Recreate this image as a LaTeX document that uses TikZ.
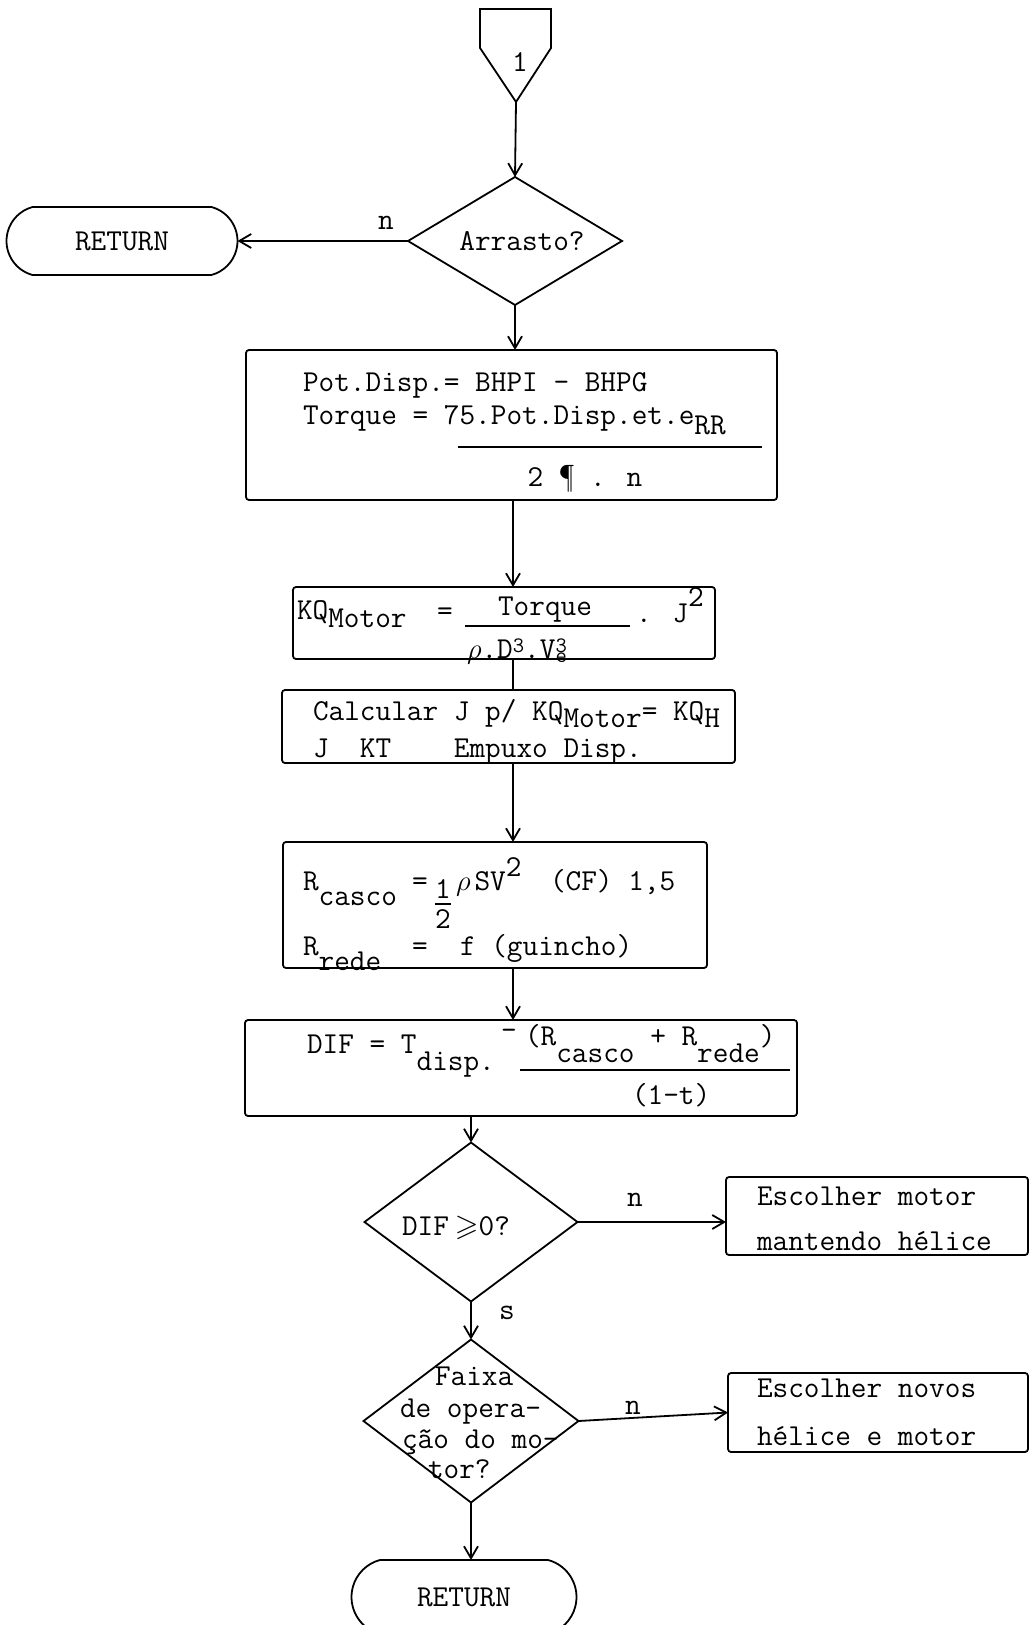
\documentclass[tikz,border=0pt]{standalone}
\usepackage{amssymb}
\usetikzlibrary{arrows.meta,shapes.geometric,shapes.misc}
\newcommand\tsub[2][5pt]{\raisebox{-#1}{#2}}
\newcommand\tsup[2][6pt]{\raisebox{#1}{#2}}
\newcommand\tw{\ttfamily\fontsize{15.2}{18}\selectfont}
\newcommand\sm{\fontsize{11}{13}\selectfont}
\begin{document}
\begin{tikzpicture}[x=0.5pt,y=-0.5pt, line width=0.9pt,
  every node/.style={inner sep=0pt, outer sep=0pt},
  txt/.style={font=\tw, anchor=base west},
  ctxt/.style={font=\tw, anchor=base},
  box/.style={draw, rectangle, rounded corners=1.5pt},
  arr/.style={-{Straight Barb[length=6pt,width=7pt]}},
  term/.style={draw, rounded rectangle, rounded rectangle arc length=150, font=\tw},
  dia/.style={draw, diamond}]
\path[use as bounding box, fill=white] (0,0) rectangle (1029,1625);
\clip (0,0) rectangle (1029,1625);

% connector
\draw (480,9) -- (551,9) -- (551,48) -- (516,102) -- (480,48) -- cycle;
\coordinate (c1tip) at (516,102);
\node[font=\tw] (c1) at (520,62) {1};

% Arrasto
\node[dia, minimum width=107pt, minimum height=64pt] (d1) at (515,241) {};
\node[font=\tw] (d1t) at (522,241) {Arrasto?};
\node[term, minimum width=115.5pt, minimum height=34pt] (r1) at (122,241) {RETURN};
\node[font=\tw] (n1) at (386,223) {n};

% box 1
\node[box, minimum width=265.5pt, minimum height=75pt] (b1) at (511.5,425) {};
\node[txt] (t1a) at (303,392) {Pot.Disp.= BHPI - BHPG};
\node[txt] (t1b) at (303,425) {Torque = 75.Pot.Disp.et.e\tsub{RR}};
\draw (458,447) -- (762,447);
\node[ctxt] (t1c) at (585,487) {2 ¶ . n};

% box 2
\node[box, minimum width=211pt, minimum height=36pt] (b2) at (504,623) {};
\node[txt] (t2a) at (297,619) {KQ\tsub[4pt]{Motor}};
\node[txt] (t2b) at (437,620) {=};
\node[ctxt] (t2c) at (545,615) {Torque};
\draw (465,626) -- (630,626);
\node[txt] (t2d) at (467,658) {{\rmfamily$\rho$}.D\tsup[3pt]{\sm 3}.V\rlap{\tsup[3pt]{\sm 3}}\tsub[2pt]{\sm e}};
\node[txt] (t2e) at (636,622) {. J\tsup[8pt]{2}};

% box 3
\node[box, minimum width=226.5pt, minimum height=36.5pt] (b3) at (508.5,726.5) {};
\node[txt] (t3a) at (313,720) {Calcular J p/ KQ\tsub[3.5pt]{Motor}= KQ\tsub[3.5pt]{H}};
\node[txt] (t3b) at (313,757) {J~~KT~~~~Empuxo Disp.};

% box 4
\node[box, minimum width=212pt, minimum height=63pt] (b4) at (495,905) {};
\node[txt] (t4a) at (303,890) {R\tsub[7.5pt]{casco}};
\node[txt] (t4b) at (412,890) {=};
\node[ctxt] (t4c) at (443,898) {1};
\draw (435,904) -- (451,904);
\node[ctxt] (t4d) at (443,928) {2};
\node[txt] (t4e) at (456,890) {{\rmfamily$\rho$}\hspace{2pt}SV\tsup[7pt]{2}};
\node[txt] (t4f) at (550,890) {(CF) 1,5};
\node[txt] (t4g) at (303,955) {R\tsub[7.5pt]{rede}};
\node[txt] (t4h) at (412,955) {=};
\node[txt] (t4i) at (460,955) {f (guincho)};

% box 5
\node[box, minimum width=276pt, minimum height=48pt] (b5) at (521,1068) {};
\node[txt] (t5a) at (307,1053) {DIF = T\tsub[8.5pt]{disp.}};
\node[txt] (t5b) at (501,1039) {-};
\node[txt] (t5c) at (525,1045) {(R\tsub[8.5pt]{casco} + R\tsub[8.5pt]{rede})};
\draw (520,1070) -- (790,1070);
\node[txt] (t5d) at (632,1104) {(1-t)};

% diamond 2
\node[dia, minimum width=106.5pt, minimum height=79.5pt] (d2) at (471,1222) {};
\node[txt] (d2t) at (402,1235) {DIF\hspace{3pt}$\geqslant$0?};
\node[box, minimum width=151pt, minimum height=39pt] (b6) at (877,1216) {};
\node[txt] (t6a) at (757,1205) {Escolher motor};
\node[txt] (t6b) at (757,1250) {mantendo hélice};
\node[font=\tw] (n2) at (635,1200) {n};
\node[font=\tw] (s1) at (507,1313) {s};

% diamond 3
\node[dia, minimum width=107.5pt, minimum height=81.5pt] (d3) at (471,1421) {};
\node[txt] (d3a) at (435,1385) {Faixa};
\node[txt] (d3b) at (400,1417) {de opera-};
\node[txt] (d3c) at (402,1448) {ção do mo-};
\node[txt] (d3d) at (428,1478) {tor?};
\node[box, minimum width=150pt, minimum height=39.5pt] (b7) at (878,1412.5) {};
\node[txt] (t7a) at (757,1397) {Escolher novos};
\node[txt] (t7b) at (757,1445) {hélice e motor};
\node[font=\tw] (n3) at (633,1408) {n};

% return 2
\node[term, minimum width=112.5pt, minimum height=37pt] (r2) at (464,1597) {RETURN};

% connectors
\coordinate (ax) at (513,0);
\draw[arr] (c1tip) -- (d1.north);
\draw[arr] (d1.west) -- (r1.east);
\draw[arr] (d1.south) -- (d1.south |- b1.north);
\draw[arr] (b1.south -| ax) -- (b2.north -| ax);
\draw (b2.south -| ax) -- (b3.north -| ax);
\draw[arr] (b3.south -| ax) -- (b4.north -| ax);
\draw[arr] (b4.south -| ax) -- (b5.north -| ax);
\draw[arr] (b5.south -| d2.north) -- (d2.north);
\draw[arr] (d2.east) -- (d2.east -| b6.west);
\draw[arr] (d2.south) -- (d3.north);
\draw[arr] (d3.east) -- (b7.west);
\draw[arr] (d3.south) -- (d3.south |- r2.north);
\end{tikzpicture}
\end{document}
